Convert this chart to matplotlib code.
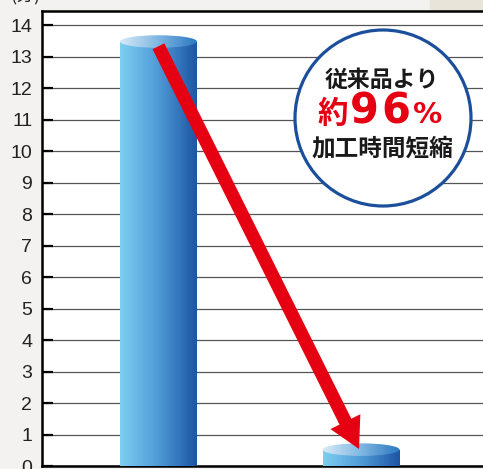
import numpy as np
import matplotlib
matplotlib.use('Agg')
import matplotlib.pyplot as plt
from matplotlib.colors import LinearSegmentedColormap
from matplotlib.patches import Rectangle, Ellipse, Circle
from matplotlib.transforms import Affine2D

# data
categories = ['従来品', '新製品']
values = [13.48, 0.52]
yticks = list(range(0, 15))
unit_label = '(分)'
bubble_lines = ['従来品より', '約', '96', '%', '加工時間短縮']

W, H, DPI = 483, 469, 100
RED = '#e50012'
CJK = ['Noto Sans CJK JP', 'DejaVu Sans']

body_cmap = LinearSegmentedColormap.from_list('body', ['#7dcff4', '#4f9ad6', '#1d55a3'])
top_cmap = LinearSegmentedColormap.from_list('top', ['#d6eaf8', '#7fb6e2', '#2a78c2'])

fig = plt.figure(figsize=(W / DPI, H / DPI), dpi=DPI)
fig.patch.set_facecolor('#f3f2f0')
# beige corner at top right
fig.add_artist(Rectangle((430 / W, 1 - 11 / H), 1, 1, transform=fig.transFigure,
                         color='#e9e4da', zorder=-1))

ax = fig.add_axes([42 / W, 3 / H, 1 - 42 / W, (1 - 11 / H) - 3 / H])
ax.set_facecolor('white')

x = np.arange(len(categories))
bar_w = 0.38
ell_h = 0.4

grad = np.linspace(0, 1, 256).reshape(1, -1)
for xc, v in zip(x, values):
    body = Rectangle((xc - bar_w / 2, 0), bar_w, v, transform=ax.transData)
    im = ax.imshow(grad, cmap=body_cmap, extent=(xc - bar_w / 2, xc + bar_w / 2, 0, v),
                   aspect='auto', zorder=3, interpolation='bilinear')
    im.set_clip_path(body)
    top = Ellipse((xc, v), bar_w, ell_h, transform=ax.transData)
    im2 = ax.imshow(grad, cmap=top_cmap,
                    extent=(xc - bar_w / 2, xc + bar_w / 2, v - ell_h / 2, v + ell_h / 2),
                    aspect='auto', zorder=4, interpolation='bilinear')
    im2.set_clip_path(top)

# red arrow from first bar top down to second bar
ax.annotate('', xy=(x[1] - 0.01, values[1] + 0.02), xytext=(x[0], values[0] - 0.15),
            arrowprops=dict(arrowstyle='simple,head_length=22,head_width=24,tail_width=9.5',
                            mutation_scale=1, color=RED, lw=0, shrinkA=0, shrinkB=0),
            zorder=6)

ax.set_xlim(-0.575, 1.602)
ax.set_ylim(0, 14.45)
ax.set_yticks(yticks)
ax.set_xticks([])
ax.yaxis.grid(True, color='#555555', lw=0.9)
ax.set_axisbelow(True)
ax.tick_params(axis='y', direction='in', length=8, width=1.6, color='black',
               labelsize=14, labelcolor='#222222', pad=7)
for lab in ax.get_yticklabels():
    lab.set_family('Liberation Sans')
ax.spines['right'].set_visible(False)
for s in ['left', 'top', 'bottom']:
    ax.spines[s].set_linewidth(1.8)
    ax.spines[s].set_color('black')

# callout circle
px = Affine2D().scale(1 / DPI) + fig.dpi_scale_trans
fig.add_artist(Circle((383, H - 118), 88, transform=px, facecolor='white',
                      edgecolor='#1b4f9c', lw=2.3, zorder=2))

def ftext(xp, yp, s, **kw):
    fig.text(xp / W, 1 - yp / H, s, ha='center', va='center', zorder=4, **kw)

ftext(382, 80, bubble_lines[0], family=CJK, weight='bold', fontsize=16.5, color='#1a1a1a')
ftext(333, 114, bubble_lines[1], family=CJK, weight='bold', fontsize=22, color=RED)
ftext(364.5, 112, bubble_lines[2][0], family='DejaVu Sans', weight='bold', fontsize=30, color=RED)
ftext(395.5, 112, bubble_lines[2][1], family='DejaVu Sans', weight='bold', fontsize=30, color=RED)
ftext(428, 115, bubble_lines[3], family='DejaVu Sans', weight='bold', fontsize=21, color=RED)
ftext(382, 148, bubble_lines[4], family=CJK, weight='bold', fontsize=17, color='#1a1a1a')

fig.text(26 / W, 1 - 1 / H, unit_label, ha='center', va='baseline', fontsize=13,
         family=CJK, color='#222222')

fig.savefig('out.png', dpi=DPI, facecolor=fig.get_facecolor())
